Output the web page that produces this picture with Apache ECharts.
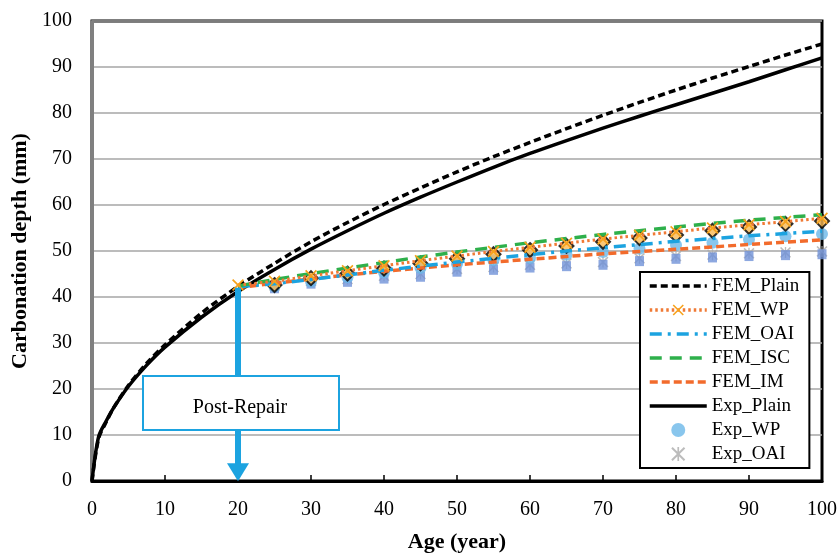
<!DOCTYPE html>
<html>
<head>
<meta charset="utf-8">
<script src="https://cdn.jsdelivr.net/npm/echarts@6/dist/echarts.min.js"></script>
<style>
  html, body { margin: 0; padding: 0; background: #fff; }
  #chart { width: 839px; height: 553px; }
</style>
</head>
<body>
<div id="chart"></div>
<script>
// whole-life curves (age, depth)
const plainAges = [0, 0.9, 2, 3, 5, 7.5, 10, 15, 20, 25, 30, 35, 40, 45, 50, 55, 60, 65, 70, 75, 80, 85, 90, 95, 100];
const femPlain = [0, 9.2, 13, 16, 20.8, 25.6, 29.6, 36.5, 42.3, 47.3, 52, 56.2, 60.1, 63.7, 67.2, 70.5, 73.6, 76.6, 79.5, 82.3, 85.0, 87.6, 90.1, 92.6, 95.0];
const expPlain = [0, 9.6, 13.2, 16, 20.6, 25.2, 29.1, 35.6, 41.2, 46, 50.4, 54.4, 58.2, 61.7, 65.0, 68.2, 71.2, 74.0, 76.7, 79.3, 81.8, 84.3, 86.8, 89.4, 92.0];

// post-repair FEM curves
const repairAges = [20, 25, 30, 35, 40, 45, 50, 55, 60, 65, 70, 75, 80, 85, 90, 95, 100];
const femWp = [42.6, 43.4, 44.6, 45.7, 46.8, 47.9, 48.9, 49.9, 50.8, 51.7, 52.6, 53.4, 54.2, 55.0, 55.7, 56.4, 57.1];
const femOai = [42.2, 42.9, 43.8, 44.8, 45.8, 46.7, 47.6, 48.4, 49.2, 50.0, 50.7, 51.4, 52.1, 52.7, 53.3, 53.8, 54.3];
const femIsc = [42.4, 43.8, 45.1, 46.3, 47.5, 48.7, 49.8, 50.8, 51.8, 52.7, 53.6, 54.4, 55.2, 56.0, 56.7, 57.3, 57.9];
const femIm = [42.0, 43.0, 43.9, 44.8, 45.6, 46.3, 47.0, 47.6, 48.2, 48.8, 49.4, 49.9, 50.4, 50.9, 51.4, 51.9, 52.4];

// measured points after repair
const expAges = [25, 30, 35, 40, 45, 50, 55, 60, 65, 70, 75, 80, 85, 90, 95, 100];
const expWp = [42.3, 43.3, 44.3, 45.3, 46.3, 47.2, 48.0, 48.5, 49.2, 49.8, 50.5, 51.3, 51.8, 52.5, 53.2, 53.7];
const expOai = [42.5, 43.5, 43.9, 44.6, 45.0, 46.1, 46.5, 47.0, 47.3, 47.6, 48.4, 48.9, 49.2, 49.5, 49.7, 49.9];
const expIsc = [41.9, 42.9, 43.3, 44.0, 44.4, 45.5, 45.9, 46.4, 46.7, 47.0, 47.8, 48.3, 48.6, 48.9, 49.1, 49.3];
const expIm = [42.6, 44.1, 45.1, 46.2, 47.3, 48.3, 49.3, 50.2, 51.1, 52.0, 52.8, 53.5, 54.4, 55.2, 55.9, 56.5];

// repair arrow: from the curve down to the age axis
const repairAge = 20;
const repairDepth = 42;
const arrowTipDepth = 1.9; // triangle is centred on the end point, so stop a bit above 0

const font = "Liberation Serif";
const xMark = "path://M0,1L1,0L5,4L9,0L10,1L6,5L10,9L9,10L5,6L1,10L0,9L4,5Z";
const starMark = "path://M0,1L1,0L5,4L9,0L10,1L6,5L10,9L9,10L5,6L1,10L0,9L4,5Z M4.4,0L5.6,0L5.6,10L4.4,10Z";

const pairs = (xs, ys) => xs.map((x, i) => [x, ys[i]]);
// line-only legend entries: hide the default circle
const lineOnly = (name) => ({ name, itemStyle: { opacity: 0 } });

const chart = echarts.init(document.getElementById("chart"));

chart.setOption({
	animation: false,
	grid: {
		left: 92,
		right: 17,
		top: 21,
		bottom: 72,
		outerBoundsMode: "none",
		show: true,
		borderColor: "#000",
		borderWidth: 3,
	},
	xAxis: {
		type: "value",
		min: 0,
		max: 100,
		interval: 10,
		name: "Age (year)",
		nameLocation: "middle",
		nameGap: 50,
		nameTextStyle: { fontFamily: font, fontSize: 22, fontWeight: "bold", color: "#000" },
		axisLine: { lineStyle: { color: "#000", width: 3 } },
		axisTick: { inside: true, length: 6, lineStyle: { color: "#000", width: 1.5 } },
		axisLabel: { fontFamily: font, fontSize: 20, color: "#000", margin: 19 },
		splitLine: { show: false },
	},
	yAxis: {
		type: "value",
		min: 0,
		max: 100,
		interval: 10,
		name: "Carbonation depth (mm)",
		nameLocation: "middle",
		nameRotate: 90,
		nameGap: 56,
		nameTextStyle: { fontFamily: font, fontSize: 22, fontWeight: "bold", color: "#000" },
		axisLine: { show: true, lineStyle: { color: "#808080", width: 3 } },
		axisTick: { show: false },
		axisLabel: { fontFamily: font, fontSize: 20, color: "#000", margin: 20 },
		splitLine: { lineStyle: { color: "#a6a6a6", width: 1.5 } },
	},
	legend: {
		orient: "vertical",
		left: 640,
		top: 272,
		data: [
			lineOnly("FEM_Plain"),
			"FEM_WP",
			lineOnly("FEM_OAI"),
			lineOnly("FEM_ISC"),
			lineOnly("FEM_IM"),
			lineOnly("Exp_Plain"),
			"Exp_WP",
			"Exp_OAI",
		],
		itemWidth: 57,
		itemHeight: 14,
		itemGap: 4,
		padding: [4, 10, 4, 8],
		backgroundColor: "#fff",
		borderColor: "#000",
		borderWidth: 2,
		borderRadius: 0,
		lineStyle: { width: 3.5 },
		textStyle: { fontFamily: font, fontSize: 19, color: "#000", lineHeight: 20 },
	},
	series: [
		{
			name: "FEM_Plain",
			type: "line",
			data: pairs(plainAges, femPlain),
			smooth: 0.3,
			symbol: "none",
			lineStyle: { color: "#000", width: 3.5, type: [7, 4] },
			itemStyle: { color: "#000" },
		},
		{
			name: "Exp_Plain",
			type: "line",
			data: pairs(plainAges, expPlain),
			smooth: 0.3,
			symbol: "none",
			lineStyle: { color: "#000", width: 3.5 },
			itemStyle: { color: "#000" },
			markLine: {
				silent: true,
				symbol: ["none", "triangle"],
				symbolSize: [22, 18],
				label: { show: false },
				lineStyle: { color: "#1ca3e0", width: 6, type: "solid" },
				data: [[{ coord: [repairAge, repairDepth] }, { coord: [repairAge, arrowTipDepth] }]],
			},
		},
		{
			name: "FEM_IM",
			type: "line",
			data: pairs(repairAges, femIm),
			symbol: "none",
			lineStyle: { color: "#f26b2c", width: 3.5, type: [8, 4] },
			itemStyle: { color: "#f26b2c" },
		},
		{
			name: "FEM_OAI",
			type: "line",
			data: pairs(repairAges, femOai),
			symbol: "none",
			lineStyle: { color: "#1ca3e0", width: 3.5, type: [12, 6, 3, 6] },
			itemStyle: { color: "#1ca3e0" },
		},
		{
			name: "FEM_ISC",
			type: "line",
			data: pairs(repairAges, femIsc),
			symbol: "none",
			lineStyle: { color: "#2eb04b", width: 3.5, type: [12, 8] },
			itemStyle: { color: "#2eb04b" },
		},
		{
			name: "FEM_WP",
			type: "line",
			data: pairs(repairAges, femWp),
			symbol: xMark,
			symbolSize: 12,
			showAllSymbol: true,
			lineStyle: { color: "#f07a35", width: 3, type: [2.5, 3] },
			itemStyle: { color: "#f7a21b" },
		},
		{
			name: "Exp_OAI",
			type: "scatter",
			data: pairs(expAges, expOai),
			symbol: starMark,
			symbolSize: 11,
			itemStyle: { color: "#ababab" },
		},
		{
			name: "Exp_ISC",
			type: "scatter",
			data: pairs(expAges, expIsc),
			symbol: "rect",
			symbolSize: [9, 10],
			itemStyle: { color: "#7092d8" },
		},
		{
			name: "Exp_WP",
			type: "scatter",
			data: pairs(expAges, expWp),
			symbol: "circle",
			symbolSize: 12,
			itemStyle: { color: "#6cb8e8" },
		},
		{
			name: "Exp_IM",
			type: "scatter",
			data: pairs(expAges, expIm),
			symbol: "diamond",
			symbolSize: 14,
			itemStyle: { color: "#f9b955", borderColor: "#000", borderWidth: 2 },
		},
	],
	graphic: [
		{
			type: "rect",
			z: 100,
			shape: { x: 143, y: 376, width: 196, height: 54 },
			style: { fill: "#fff", stroke: "#1ca3e0", lineWidth: 2 },
		},
		{
			type: "text",
			z: 101,
			x: 240,
			y: 408,
			style: {
				text: "Post-Repair",
				fontFamily: font,
				fontSize: 20,
				fill: "#000",
				align: "center",
				verticalAlign: "middle",
			},
		},
	],
});

window.addEventListener("resize", () => chart.resize());
</script>
</body>
</html>
